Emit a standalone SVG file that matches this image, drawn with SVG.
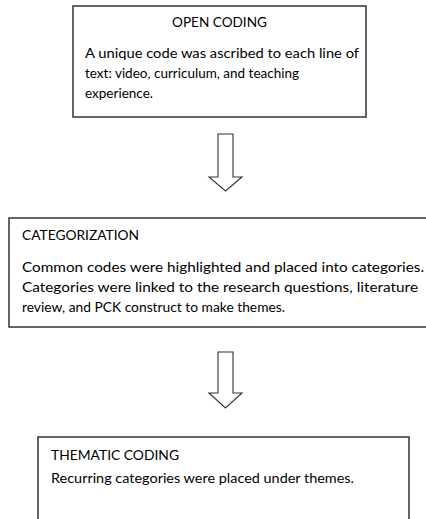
<svg xmlns="http://www.w3.org/2000/svg" width="426" height="519" viewBox="0 0 426 519">
  <style>
    .box { fill: #ffffff; stroke: #333333; stroke-width: 1.5; }
    .txt { font-family: Lato, "Open Sans", "Liberation Sans", sans-serif; font-size: 14.2px; fill: #000000; }
    .arrow { fill: #ffffff; stroke: #333333; stroke-width: 1.1; stroke-linejoin: miter; }
  </style>
  <rect width="426" height="519" fill="#ffffff"/>

  <g id="open-coding">
    <rect class="box" x="73" y="6" width="293" height="111"/>
    <text class="txt" x="172" y="27" textLength="95" lengthAdjust="spacingAndGlyphs">OPEN CODING</text>
    <text class="txt" x="85" y="58" textLength="274" lengthAdjust="spacingAndGlyphs">A unique code was ascribed to each line of</text>
    <text class="txt" x="85" y="78" textLength="214" lengthAdjust="spacingAndGlyphs">text: video, curriculum, and teaching</text>
    <text class="txt" x="85" y="98" textLength="68" lengthAdjust="spacingAndGlyphs">experience.</text>
  </g>

  <g id="categorization">
    <rect class="box" x="9" y="218" width="425" height="109"/>
    <text class="txt" x="22" y="240" textLength="117" lengthAdjust="spacingAndGlyphs">CATEGORIZATION</text>
    <text class="txt" x="22" y="272" textLength="402" lengthAdjust="spacingAndGlyphs">Common codes were highlighted and placed into categories.</text>
    <text class="txt" x="22" y="292" textLength="396" lengthAdjust="spacingAndGlyphs">Categories were linked to the research questions, literature</text>
    <text class="txt" x="22" y="312" textLength="263" lengthAdjust="spacingAndGlyphs">review, and PCK construct to make themes.</text>
  </g>

  <g id="thematic-coding">
    <rect class="box" x="38" y="437" width="371" height="100"/>
    <text class="txt" x="51" y="460" textLength="128" lengthAdjust="spacingAndGlyphs">THEMATIC CODING</text>
    <text class="txt" x="51" y="483" textLength="303" lengthAdjust="spacingAndGlyphs">Recurring categories were placed under themes.</text>
  </g>

  <g id="connectors">
    <polygon class="arrow" points="218,134 233,134 233,177 242,177 225.5,191 209,177 218,177"/>
    <polygon class="arrow" points="218,352 233,352 233,393 242,393 225.5,408 209,393 218,393"/>
  </g>
</svg>
